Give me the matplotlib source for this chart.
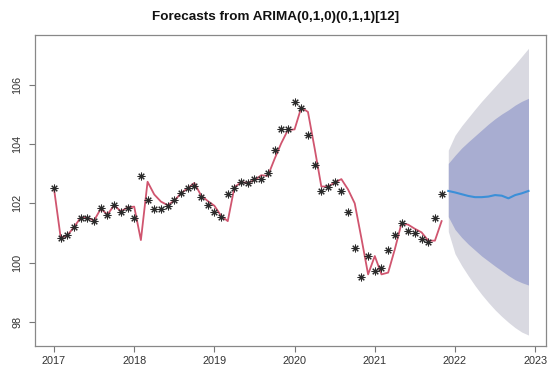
import numpy as np
import matplotlib.pyplot as plt

# Serie mensual observada (ene 2017 - nov 2021)
observados = [
    102.53, 100.82, 100.93, 101.21, 101.52, 101.50, 101.41, 101.83, 101.61, 101.95, 101.72, 101.83,
    101.52, 102.93, 102.11, 101.80, 101.80, 101.92, 102.11, 102.34, 102.53, 102.59, 102.22, 101.93,
    101.72, 101.53, 102.31, 102.53, 102.72, 102.70, 102.82, 102.82, 103.03, 103.81, 104.51, 104.51,
    105.42, 105.21, 104.32, 103.31, 102.42, 102.55, 102.73, 102.42, 101.72, 100.50, 99.52, 100.23,
    99.71, 99.83, 100.43, 100.93, 101.33, 101.08, 100.99, 100.80, 100.71, 101.52, 102.32,
]

# Valores ajustados por el modelo
ajustados = [
    102.50, 100.84, 100.92, 101.20, 101.52, 101.52, 101.42, 101.82, 101.62, 101.94, 101.73, 101.86,
    101.89, 100.76, 102.73, 102.30, 102.06, 101.94, 102.09, 102.34, 102.51, 102.69, 102.27, 102.08,
    101.92, 101.58, 101.40, 102.55, 102.71, 102.70, 102.78, 102.95, 102.93, 103.50, 104.03, 104.48,
    104.50, 105.24, 105.09, 103.86, 102.57, 102.57, 102.70, 102.82, 102.47, 102.00, 100.82, 99.60,
    100.22, 99.60, 99.66, 100.45, 101.33, 101.28, 101.14, 101.02, 100.74, 100.74, 101.40,
]

# Pronostico dic 2021 - dic 2022 con intervalos de 80% y 95%
pronostico = [102.42, 102.37, 102.31, 102.25, 102.21, 102.21, 102.23, 102.28, 102.26, 102.17, 102.28, 102.34, 102.42]
lim80_sup = [103.35, 103.62, 103.87, 104.08, 104.28, 104.48, 104.68, 104.86, 105.02, 105.16, 105.32, 105.45, 105.55]
lim80_inf = [101.55, 101.12, 100.85, 100.62, 100.42, 100.22, 100.05, 99.88, 99.72, 99.56, 99.42, 99.32, 99.24]
lim95_sup = [103.80, 104.30, 104.62, 104.90, 105.18, 105.45, 105.70, 105.95, 106.20, 106.45, 106.70, 106.97, 107.24]
lim95_inf = [101.05, 100.30, 99.90, 99.55, 99.22, 98.92, 98.65, 98.40, 98.18, 97.98, 97.80, 97.65, 97.55]

anios = [2017, 2018, 2019, 2020, 2021, 2022, 2023]
marcas_y = [98, 100, 102, 104, 106]

t_obs = 2017 + np.arange(len(observados)) / 12
t_pron = t_obs[-1] + (np.arange(len(pronostico)) + 1) / 12

fig = plt.figure(figsize=(5.51, 3.82), dpi=100)
ax = fig.add_axes([35 / 551, 1 - 346 / 382, 511 / 551, 311 / 382])

# Bandas de confianza y media del pronostico
ax.fill_between(t_pron, lim95_inf, lim95_sup, color='#D9D9E1', lw=0)
ax.fill_between(t_pron, lim80_inf, lim80_sup, color='#A8ADD1', lw=0)
ax.plot(t_pron, pronostico, color='#3B8FD8', lw=1.5)

# Ajuste del modelo y datos reales
ax.plot(t_obs, ajustados, color='#D0556F', lw=1.3)
ax.plot(t_obs, observados, ls='none', marker=(8, 2, 0), ms=5.5, mew=0.75, color='#2A2A2A')

ax.set_xlim(2016.763, 2023.135)
ax.set_ylim(97.18, 107.69)

ax.set_xticks(anios)
ax.set_xticklabels([str(a) for a in anios], fontsize=7.8, color='#333333', family='Liberation Sans')
ax.set_yticks(marcas_y)
ax.set_yticklabels([str(v) for v in marcas_y], fontsize=7.8, color='#333333', family='Liberation Sans',
                   rotation=90, va='center')
ax.tick_params(axis='x', length=4, width=0.8, color='#777777', pad=3)
ax.tick_params(axis='y', length=4, width=0.8, color='#777777', pad=5)

for lado in ax.spines.values():
    lado.set_color('#888888')
    lado.set_linewidth(0.9)

fig.text(0.5, 1 - 17 / 382, 'Forecasts from ARIMA(0,1,0)(0,1,1)[12]', ha='center', va='center',
         fontsize=9.7, fontweight='bold', family='Liberation Sans', color='#111111')

fig.savefig('out.png', dpi=100)
